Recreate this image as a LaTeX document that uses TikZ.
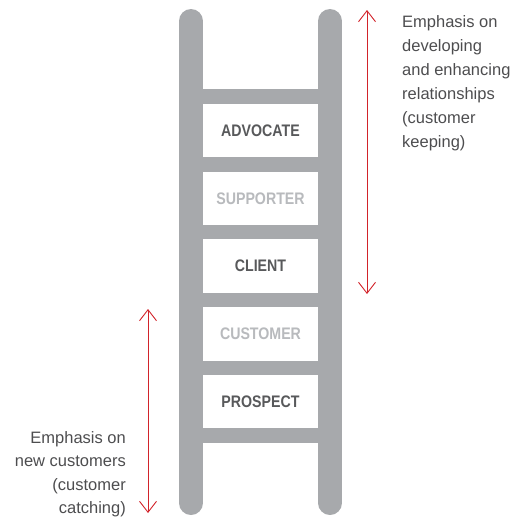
\documentclass[tikz,border=0pt]{standalone}
\usepackage{fontspec}
\setmainfont{Liberation Sans}
\newfontfamily\labelfont[FakeStretch=0.85]{Liberation Sans}
\usetikzlibrary{arrows.meta}
\definecolor{railgray}{HTML}{A7A9AC}
\definecolor{darktext}{HTML}{58595B}
\definecolor{lighttext}{HTML}{B8BABD}
\definecolor{annot}{HTML}{4D4D4F}
\definecolor{arrowred}{HTML}{D2232A}
\tikzset{
  rail/.style={railgray, line width=24pt, line cap=round},
  rungbox/.style={fill=white, draw=none, minimum width=115pt, minimum height=53.5pt, inner sep=0pt,
    font=\labelfont\bfseries\fontsize{16.7}{18}\selectfont},
  darklabel/.style={rungbox, text=darktext},
  lightlabel/.style={rungbox, text=lighttext},
  annotation/.style={inner sep=0pt, text=annot, font=\fontsize{16.5}{24}\selectfont},
  redarrow/.style={arrowred, line width=0.9pt, {Straight Barb[length=11pt,width=17pt]}-{Straight Barb[length=11pt,width=17pt]}}
}
\begin{document}
\begin{tikzpicture}[x=1pt,y=-1pt]
\useasboundingbox (0,0) rectangle (518,517);
% rails
\coordinate (lt) at (191,21);
\coordinate (lb) at (191,503);
\coordinate (rt) at (330,21);
\coordinate (rb) at (330,503);
\draw[rail] (lt) -- (lb);
\draw[rail] (rt) -- (rb);
% rung band
\fill[railgray] (203,89) rectangle (318,443);
% boxes
\node[darklabel]  (advocate)  at (260.5,130.5) {ADVOCATE};
\node[lightlabel] (supporter) at (260.5,198.5) {SUPPORTER};
\node[darklabel]  (client)    at (260.5,266)   {CLIENT};
\node[lightlabel] (customer)  at (260.5,334)   {CUSTOMER};
\node[darklabel]  (prospect)  at (260.5,401.5) {PROSPECT};
% right arrow and text
\coordinate (ra1) at (367,10);
\coordinate (ra2) at (367,294);
\draw[redarrow] (ra1) -- (ra2);
\node[annotation, anchor=north west, align=left] (keeping) at (402,15)
  {Emphasis on\\developing\\and enhancing\\relationships\\(customer\\keeping)};
% left arrow and text
\coordinate (la1) at (148,309);
\coordinate (la2) at (148,513);
\draw[redarrow] (la1) -- (la2);
\node[annotation, anchor=north east, align=right, font=\fontsize{16.5}{23.5}\selectfont] (catching) at (126,431)
  {Emphasis on\\new customers\\(customer\\catching)};
\end{tikzpicture}
\end{document}
